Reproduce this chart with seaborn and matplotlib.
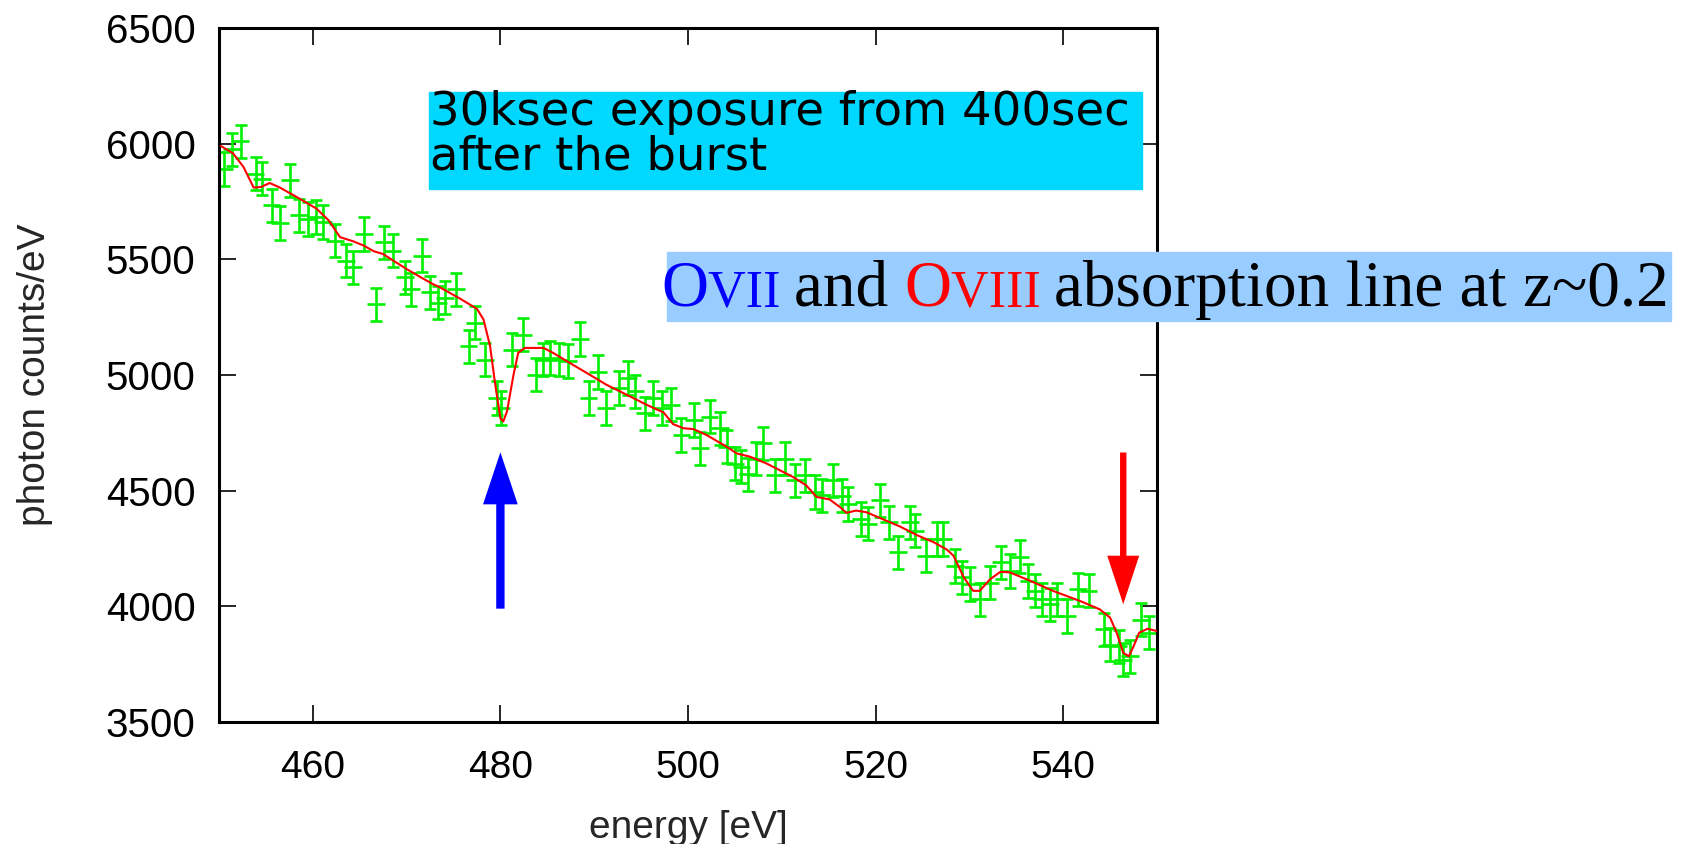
import numpy as np
import pandas as pd
import matplotlib
matplotlib.use("Agg")
import matplotlib.pyplot as plt
from matplotlib.patches import Rectangle
from matplotlib.text import Annotation
import seaborn as sns

# ---------------- data ----------------
data_energy = [450.5, 451.4, 452.3, 453.9, 454.6, 455.6, 456.5, 457.6, 458.5, 459.5,
               460.3, 461.1, 462.4, 463.5, 464.3, 465.5, 466.7, 467.6, 468.5, 469.8,
               470.5, 471.6, 472.5, 473.4, 474.1, 475.3, 476.6, 477.3, 478.4, 479.6,
               480.1, 481.2, 482.4, 483.8, 484.5, 485.3, 486.3, 487.2, 488.5, 489.4,
               490.4, 491.3, 492.6, 493.6, 494.4, 495.4, 496.3, 497.2, 498.2, 499.3,
               500.6, 501.3, 502.3, 503.4, 504.2, 505.0, 505.7, 506.4, 507.2, 508.0,
               509.3, 510.3, 511.4, 512.5, 513.5, 514.3, 515.5, 516.4, 517.1, 518.4,
               519.2, 520.5, 521.4, 522.4, 523.7, 524.2, 525.4, 526.5, 527.2, 528.5,
               529.2, 530.1, 531.1, 532.2, 533.4, 534.3, 535.4, 536.3, 537.0, 537.7,
               538.6, 539.3, 540.4, 541.6, 542.7, 544.3, 545.0, 545.9, 546.4, 547.1,
               548.3, 549.2]
data_counts = [5890, 5975, 6010, 5871, 5849, 5733, 5657, 5842, 5690, 5675,
               5683, 5661, 5581, 5494, 5465, 5610, 5306, 5574, 5538, 5422,
               5371, 5516, 5357, 5313, 5335, 5371, 5124, 5226, 5066, 4900,
               4857, 5110, 5175, 5001, 5067, 5074, 5067, 5060, 5156, 4900,
               5013, 4857, 4944, 4987, 4930, 4835, 4900, 4857, 4871, 4741,
               4806, 4683, 4820, 4770, 4690, 4617, 4604, 4570, 4639, 4704,
               4566, 4639, 4545, 4566, 4494, 4480, 4545, 4479, 4443, 4378,
               4357, 4458, 4363, 4233, 4363, 4327, 4219, 4291, 4291, 4175,
               4125, 4096, 4030, 4103, 4190, 4153, 4215, 4110, 4067, 4030,
               4009, 4030, 3958, 4074, 4067, 3900, 3835, 3827, 3770, 3784,
               3943, 3886]
err_energy = 0.95
err_counts = 72

model_energy = [450.2, 451.5, 452.6, 453.7, 454.5, 455.4, 456.5, 458.6, 460.4, 461.7,
                462.9, 464.3, 465.4, 466.5, 467.5, 468.6, 470.0, 471.4, 472.8, 473.6,
                475.7, 477.5, 478.2, 478.9, 479.4, 480.0, 480.3, 480.7, 481.4, 481.9,
                482.6, 484.6, 485.6, 487.4, 489.2, 491.3, 493.5, 495.6, 497.4, 498.4,
                499.5, 500.6, 502.0, 503.4, 504.5, 505.2, 506.6, 508.4, 509.8, 511.2,
                512.6, 513.7, 515.1, 516.2, 516.9, 517.9, 519.0, 520.4, 522.6, 524.5,
                526.2, 527.6, 528.3, 529.4, 530.4, 531.1, 532.2, 533.3, 534.3, 536.5,
                538.9, 541.8, 543.9, 545.0, 545.7, 546.4, 547.0, 547.5, 548.1, 549.0,
                550.0]
model_counts = [5990, 5958, 5900, 5810, 5813, 5830, 5810, 5762, 5719, 5668,
                5596, 5578, 5560, 5535, 5523, 5494, 5458, 5425, 5393, 5378,
                5330, 5286, 5240, 5125, 4973, 4813, 4799, 4842, 5001, 5096,
                5117, 5117, 5096, 5052, 5009, 4958, 4914, 4871, 4838, 4788,
                4770, 4766, 4740, 4707, 4680, 4661, 4647, 4617, 4588, 4559,
                4523, 4473, 4462, 4429, 4404, 4414, 4407, 4383, 4345, 4306,
                4277, 4245, 4219, 4125, 4067, 4067, 4117, 4149, 4147, 4110,
                4067, 4023, 3987, 3951, 3886, 3799, 3784, 3827, 3886, 3903,
                3893]

x_ticks = [460, 480, 500, 520, 540]
y_ticks = [3500, 4000, 4500, 5000, 5500, 6000, 6500]

box1_text = "30ksec exposure from 400sec\nafter the burst"
box2_pieces = [("O", "#0000ff", False), ("VII ", "#0000ff", True),
               ("and ", "black", False), ("O", "#ff0000", False),
               ("VIII ", "#ff0000", True), ("absorption line at z~0.2", "black", False)]

# ---------------- figure ----------------
sns.set_style("ticks")
plt.rcParams["font.family"] = ["Liberation Sans", "DejaVu Sans"]

W, H = 1694, 844
fig = plt.figure(figsize=(W / 100, H / 100), dpi=100)
ax = fig.add_axes([219 / W, 1 - 722 / H, (1157 - 219) / W, (722 - 28) / H])

data_df = pd.DataFrame({"energy": data_energy, "counts": data_counts})
model_df = pd.DataFrame({"energy": model_energy, "counts": model_counts})

green = "#00f000"
ax.errorbar(data_df["energy"], data_df["counts"], xerr=err_energy, fmt="none",
            ecolor=green, elinewidth=1.9, capsize=0, zorder=2)
ax.errorbar(data_df["energy"], data_df["counts"], yerr=err_counts, fmt="none",
            ecolor=green, elinewidth=1.9, capsize=4.5, capthick=1.9, zorder=2)

sns.lineplot(data=model_df, x="energy", y="counts", color="#ff0000", lw=1.5,
             ax=ax, zorder=3, sort=False)

ax.set_xlim(450, 550)
ax.set_ylim(3500, 6500)
ax.set_xticks(x_ticks)
ax.set_yticks(y_ticks)
for s in ax.spines.values():
    s.set_linewidth(2.2)
    s.set_color("black")
ax.tick_params(axis="both", which="major", direction="in", length=12, width=1.2,
               top=True, right=True, labelsize=28, colors="black")
ax.tick_params(axis="y", labelsize=29, pad=17)
ax.tick_params(axis="x", pad=20)

ax.set_xlabel("energy [eV]", fontsize=28)
ax.set_ylabel("photon counts/eV", fontsize=28)
ax.xaxis.set_label_coords(0.5, -0.127)
ax.yaxis.set_label_coords(-0.177, 0.5)

# ---------------- arrows ----------------
ax.annotate("", xy=(480, 4666), xytext=(480, 3990),
            arrowprops=dict(arrowstyle="simple,head_length=0.75,head_width=0.5,tail_width=0.12",
                            mutation_scale=50, color="#0000ff", shrinkA=0, shrinkB=0, lw=0))
ax.annotate("", xy=(546.4, 4009), xytext=(546.4, 4665),
            arrowprops=dict(arrowstyle="simple,head_length=0.76,head_width=0.5,tail_width=0.1",
                            mutation_scale=46, color="#ff0000", shrinkA=0, shrinkB=0, lw=0))

# ---------------- annotation boxes ----------------
fig.patches.append(Rectangle((429 / W, 1 - 189 / H), (1142 - 429) / W, (189 - 92) / H,
                             transform=fig.transFigure, color="#00d8ff", zorder=5))
fig.text(430 / W, 1 - 90 / H, box1_text, fontsize=33.5, family="DejaVu Sans",
         color="black", va="top", ha="left", linespacing=1.0, zorder=6)

fig.patches.append(Rectangle((667 / W, 1 - 321 / H), (1671 - 667) / W, (321 - 252) / H,
                             transform=fig.transFigure, color="#99ccff", zorder=5))
big, small = 47, 37.5
shift = 0.217 * (big - small)
prev = None
prev_small = False
for txt, col, is_small in box2_pieces:
    fs = small if is_small else big
    if prev is None:
        prev = fig.text(661 / W, 1 - 306 / H, txt, fontsize=fs, color=col,
                        family="Liberation Serif", va="baseline", ha="left", zorder=6)
        prev_small = is_small
        continue
    dy = (shift if is_small else 0) - (shift if prev_small else 0)
    ann = Annotation(txt, xy=(1, 0), xycoords=prev, xytext=(0, dy),
                     textcoords="offset points", fontsize=fs, color=col,
                     family="Liberation Serif", va="bottom", ha="left",
                     annotation_clip=False)
    ann.set_zorder(6)
    fig.add_artist(ann)
    prev = ann
    prev_small = is_small

fig.savefig("out.png", dpi=100, facecolor="white")
